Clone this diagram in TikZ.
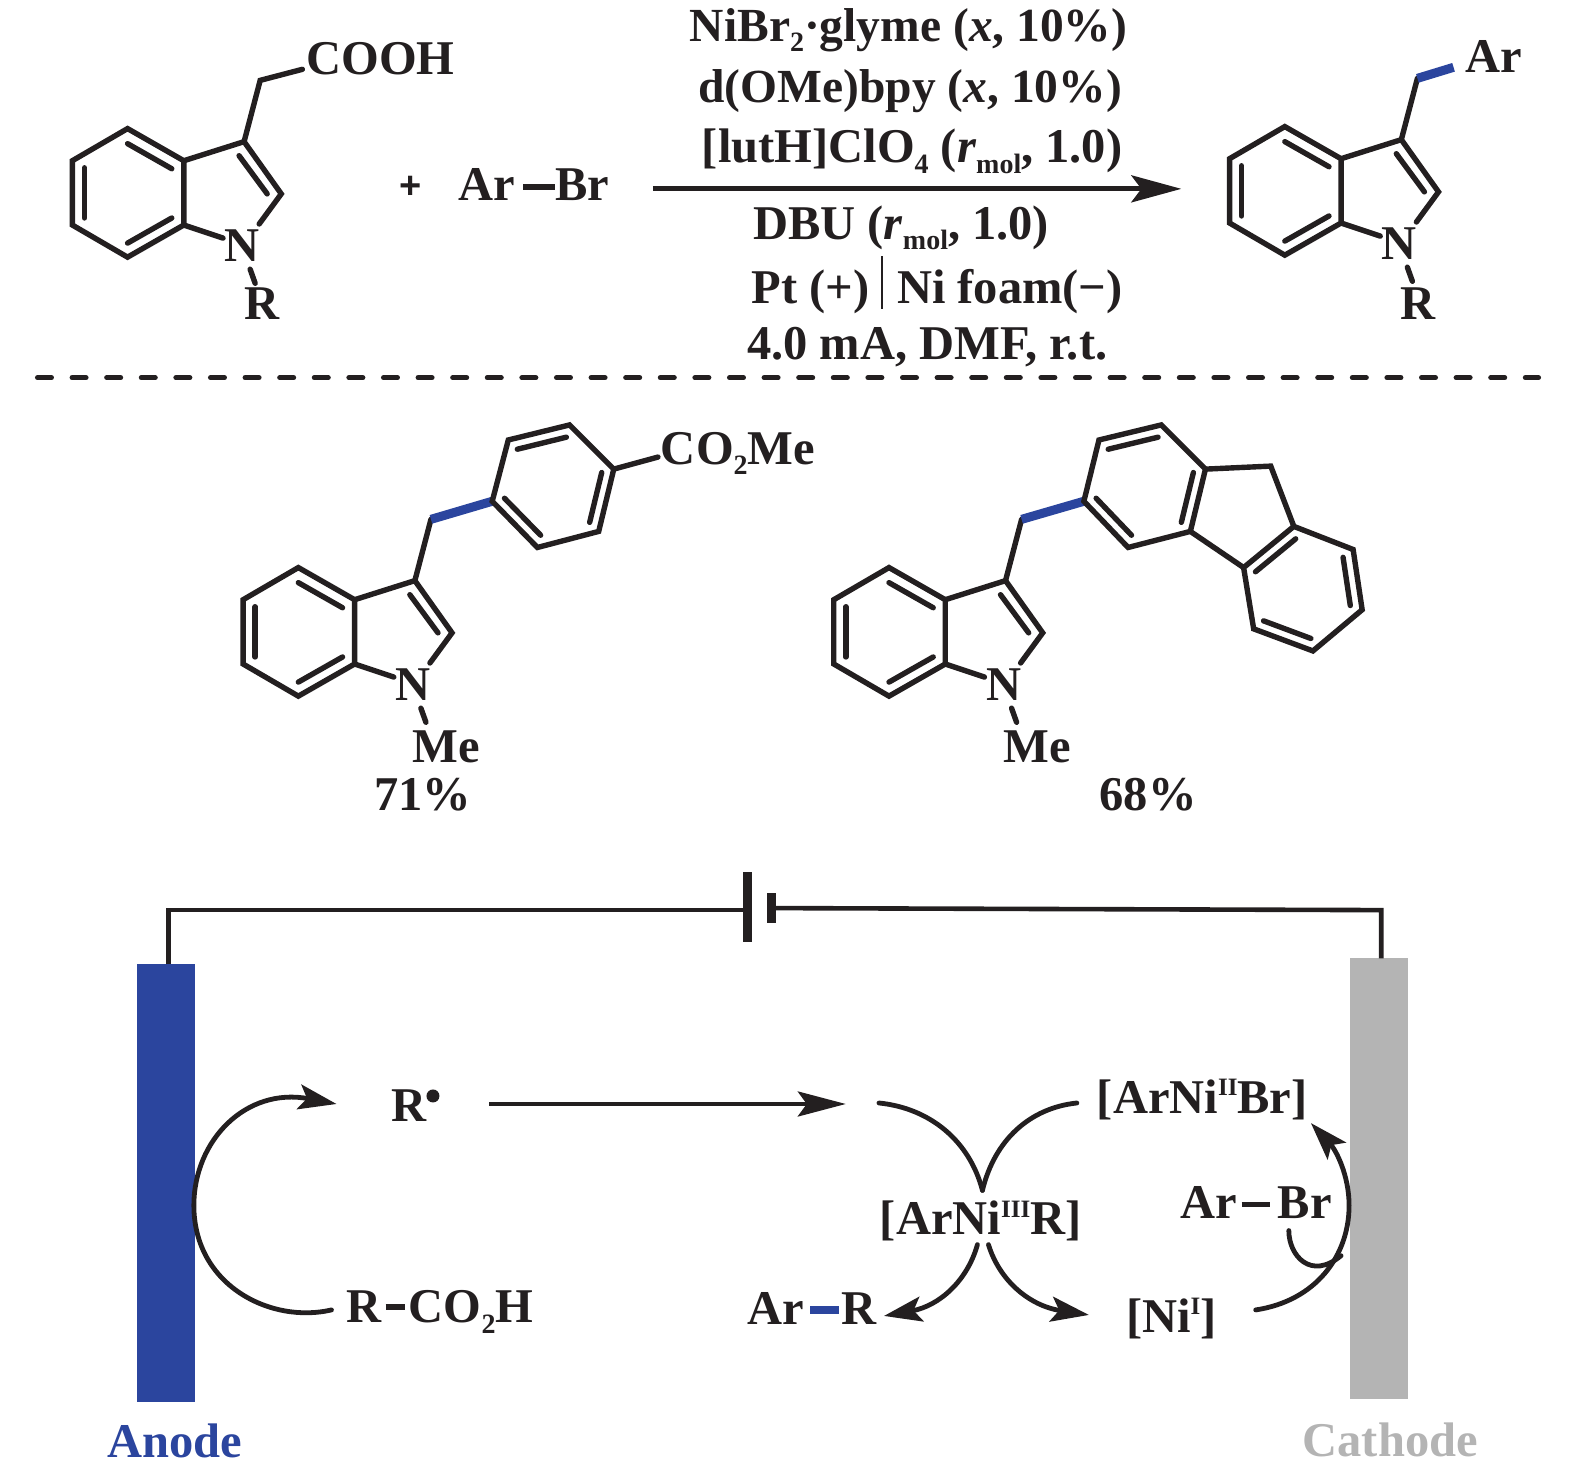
\documentclass[tikz,border=0pt]{standalone}
\usepackage{fontspec}
\setmainfont{Liberation Serif}
\newfontfamily\plusfont{Liberation Sans}
\usetikzlibrary{arrows.meta,calc}
\definecolor{ink}{HTML}{231F20}
\definecolor{bluebar}{HTML}{2B459E}
\definecolor{graybar}{HTML}{B4B4B4}
\newcommand{\lsub}[1]{\raisebox{-0.22em}{\fontsize{28}{28}\selectfont #1}}
\newcommand{\lsup}[1]{\raisebox{0.36em}{\fontsize{25}{25}\selectfont #1}}
\newcommand{\indoleat}[3]{%
\begin{scope}[shift={(#1,#2)}]
\coordinate (#3a) at (127,128);
\coordinate (#3b) at (183,160);
\coordinate (#3c) at (183,224);
\coordinate (#3d) at (127,256);
\coordinate (#3e) at (72,224);
\coordinate (#3f) at (72,160);
\coordinate (#3g) at (243,141);
\coordinate (#3h) at (280,193);
\coordinate (#3i) at (258,223);
\coordinate (#3j) at (222,237);
\coordinate (#3k) at (249,268);
\coordinate (#3l) at (254,282);
\draw[bond] (#3a) -- (#3b) -- (#3c) -- (#3d) -- (#3e) -- (#3f) -- cycle;
\draw[bond] (#3b) -- (#3g) -- (#3h) -- (#3i);
\draw[bond] (#3c) -- (#3j);
\draw[bond] (#3k) -- (#3l);
\draw[bond] (127,143) -- (171,168);
\draw[bond] (127,242) -- (171,217);
\draw[bond] (84,167) -- (84,217);
\draw[bond] (238,155) -- (266,193);
\node[txt,anchor=base] (#3N) at (241,260) {N};
\end{scope}}
\newcommand{\dbl}[3]{\draw[bond] ($(#1)!0.2!(#3)$) -- ($(#2)!0.2!(#3)$);}
\tikzset{
  x=1.0045pt,y=-1.0045pt,
  bond/.style={draw=ink,line width=5.4pt,line cap=round,line join=miter},
  bluebond/.style={draw=bluebar,line width=9pt},
  txt/.style={inner sep=0pt,outer sep=0pt,text=ink,font=\bfseries\fontsize{48.5}{50}\selectfont},
  captxt/.style={txt,font=\bfseries\fontsize{47.5}{50}\selectfont},
  wire/.style={draw=ink,line width=4.6pt},
  curve/.style={draw=ink,line width=4.8pt,line cap=round},
  tipped/.style={curve,-{Stealth[length=38pt,width=25pt,inset=8pt]}},
}
\begin{document}
\begin{tikzpicture}
\useasboundingbox (0,0) rectangle (1567.9,1465.4);
% ---------- reaction scheme
\indoleat{0}{0}{p}
\coordinate (pch) at (259,80);
\coordinate (pce) at (301,69);
\draw[bond] (pg) -- (pch) -- (pce);
\node[txt,anchor=base west] (cooh) at (305,74) {COOH};
\node[txt,anchor=base] (pR) at (261,318) {R};
\node[txt,anchor=base,font=\plusfont\bfseries\fontsize{38}{40}\selectfont] (plus) at (409,198) {+};
\node[txt,anchor=base west] (ar1) at (456,199.5) {Ar};
\node[txt,anchor=base west] (br1) at (553,199.5) {Br};
\coordinate (d1a) at (521,186);
\coordinate (d1b) at (552,186);
\draw[bond,line cap=butt] (d1a) -- (d1b);
\coordinate (ma) at (650,188);
\coordinate (mb) at (1176,188);
\draw[draw=ink,line width=4.8pt,-{Stealth[length=50pt,width=27pt,inset=10pt]}] (ma) -- (mb);
\node[captxt,anchor=base] (c1) at (904.5,41) {NiBr\lsub{2}·glyme (\textit{x}, 10\%)};
\node[captxt,anchor=base] (c2) at (906,102) {d(OMe)bpy (\textit{x}, 10\%)};
\node[txt,anchor=base] (c3) at (908,162) {[lutH]ClO\lsub{4} (\textit{r}\lsub{mol}, 1.0)};
\node[txt,anchor=base] (c4) at (897,238) {DBU (\textit{r}\lsub{mol}, 1.0)};
\node[txt,anchor=base west] (c5a) at (748,302) {Pt (+)};
\node[txt,anchor=base west] (c5b) at (893,302) {Ni foam(−)};
\coordinate (ba) at (878,255);
\coordinate (bb) at (878,308);
\draw[draw=ink,line width=2.6pt] (ba) -- (bb);
\node[txt,anchor=base] (c6) at (923,358) {4.0 mA, DMF, r.t.};
\indoleat{1152}{-2}{q}
\coordinate (qch) at (1411,78);
\coordinate (qce) at (1447,67);
\draw[bond] (qg) -- (qch);
\draw[bluebond] (qch) -- (qce);
\node[txt,anchor=base west] (qAr) at (1459,72) {Ar};
\node[txt,anchor=base] (qR) at (1412,318) {R};
\coordinate (dl) at (37.3,376);
\coordinate (dr) at (1531.6,376);
\draw[draw=ink,line width=5pt,line cap=round,dash pattern=on 14pt off 20.6pt] (dl) -- (dr);
% ---------- product 1
\indoleat{170}{437}{r}
\coordinate (rch) at (429,517);
\coordinate (r1) at (490,499);
\coordinate (r2) at (506,438);
\coordinate (r3) at (567,423);
\coordinate (r4) at (611,467);
\coordinate (r5) at (596,529);
\coordinate (r6) at (535,545);
\coordinate (rc) at (551,484);
\coordinate (re) at (655,455);
\draw[bond] (rg) -- (rch);
\draw[bluebond] (rch) -- (r1);
\draw[bond] (r1) -- (r2) -- (r3) -- (r4) -- (r5) -- (r6) -- cycle;
\dbl{r2}{r3}{rc}\dbl{r4}{r5}{rc}\dbl{r6}{r1}{rc}
\draw[bond] (r4) -- (re);
\node[txt,anchor=base west] (rest) at (658,462) {CO\lsub{2}Me};
\node[txt,anchor=base west] (rMe) at (411,759.5) {Me};
\node[txt,anchor=base] (ry) at (421,807) {71\%};
% ---------- product 2
\indoleat{758}{437}{s}
\coordinate (sch) at (1017,517);
\coordinate (s1) at (1079,499);
\coordinate (s2) at (1094,438);
\coordinate (s3) at (1156,423);
\coordinate (s4) at (1200,467);
\coordinate (s5) at (1185,529);
\coordinate (s6) at (1123,545);
\coordinate (sc) at (1140,484);
\coordinate (t0) at (1265,464);
\coordinate (t1) at (1288,524);
\coordinate (t2) at (1347,547);
\coordinate (t3) at (1356,607);
\coordinate (t4) at (1307,648);
\coordinate (t5) at (1248,626);
\coordinate (t6) at (1238,565);
\coordinate (tc) at (1297,586);
\draw[bond] (sg) -- (sch);
\draw[bluebond] (sch) -- (s1);
\draw[bond] (s1) -- (s2) -- (s3) -- (s4) -- (s5) -- (s6) -- cycle;
\dbl{s2}{s3}{sc}\dbl{s4}{s5}{sc}\dbl{s6}{s1}{sc}
\draw[bond] (s4) -- (t0) -- (t1);
\draw[bond] (s5) -- (t6);
\draw[bond] (t1) -- (t2) -- (t3) -- (t4) -- (t5) -- (t6) -- cycle;
\dbl{t1}{t6}{tc}\dbl{t2}{t3}{tc}\dbl{t4}{t5}{tc}
\node[txt,anchor=base west] (sMe) at (999,759.5) {Me};
\node[txt,anchor=base] (sy) at (1143,807) {68\%};
% ---------- electrolysis cell
\node[fill=bluebar,inner sep=0pt,minimum width=58pt,minimum height=438pt] (anode) at (165,1178) {};
\node[fill=graybar,inner sep=0pt,minimum width=58pt,minimum height=441pt] (cathode) at (1373,1173.5) {};
\node[fill=ink,inner sep=0pt,minimum width=9pt,minimum height=70pt] (plateA) at (744,903) {};
\node[fill=ink,inner sep=0pt,minimum width=9pt,minimum height=30pt] (plateB) at (768,904) {};
\draw[wire] (168,960) -- (168,906) -- (plateA.west |- 0,906);
\draw[wire] (plateB.east) -- (1375,906) -- (1375,954);
\node[txt,anchor=base,text=bluebar] (anlab) at (174,1450.5) {Anode};
\node[txt,anchor=base,text=graybar] (calab) at (1384,1450) {Cathode};
\node[txt,anchor=base west] (rad) at (390,1116) {R};
\node[circle,fill=ink,inner sep=0pt,minimum size=13pt] (raddot) at (431,1091) {};
\node[txt,anchor=base west] (acidR) at (345,1316.5) {R};
\node[txt,anchor=base west] (acidC) at (407,1316.5) {CO\lsub{2}H};
\coordinate (acd1) at (384,1301);
\coordinate (acd2) at (403,1301);
\draw[bond,line cap=butt] (acd1) -- (acd2);
\draw[tipped] (330,1304) .. controls (270,1318) and (193,1280) .. (193,1200)
   .. controls (193,1135) and (245,1082) .. (335,1099);
\coordinate (la) at (487,1099);
\coordinate (lb) at (842,1099);
\draw[draw=ink,line width=4.4pt,-{Stealth[length=48pt,width=25pt,inset=9pt]}] (la) -- (lb);
\node[txt,anchor=base west] (n2) at (1092,1108) {[ArNi\lsup{II}Br]};
\node[txt,anchor=base west] (n3) at (876,1229) {[ArNi\lsup{III}R]};
\node[txt,anchor=base west] (n1) at (1121,1326) {[Ni\lsup{I}]};
\node[txt,anchor=base west] (arr) at (744,1319) {Ar};
\node[txt,anchor=base west] (rr) at (838,1319) {R};
\node[fill=bluebar,inner sep=0pt,minimum width=29pt,minimum height=8pt] (rrb) at (820.5,1304) {};
\node[txt,anchor=base west] (ar2) at (1175,1213) {Ar};
\node[txt,anchor=base west] (br2) at (1272,1213) {Br};
\coordinate (d2a) at (1236,1199);
\coordinate (d2b) at (1264,1199);
\draw[bond,line cap=butt] (d2a) -- (d2b);
\draw[curve] (875,1098) .. controls (925,1103) and (965,1135) .. (978,1185);
\draw[curve] (1072,1098) .. controls (1025,1103) and (990,1135) .. (978,1185);
\draw[tipped] (973,1239) .. controls (963,1275) and (935,1300) .. (880,1310);
\draw[tipped] (984,1239) .. controls (995,1275) and (1025,1300) .. (1084,1309);
\draw[tipped] (1250,1304) .. controls (1310,1295) and (1343,1250) .. (1343,1200)
   .. controls (1343,1170) and (1330,1145) .. (1305,1118);
\draw[curve] (1283,1225) .. controls (1283,1250) and (1305,1275) .. (1335,1250);
\end{tikzpicture}
\end{document}
